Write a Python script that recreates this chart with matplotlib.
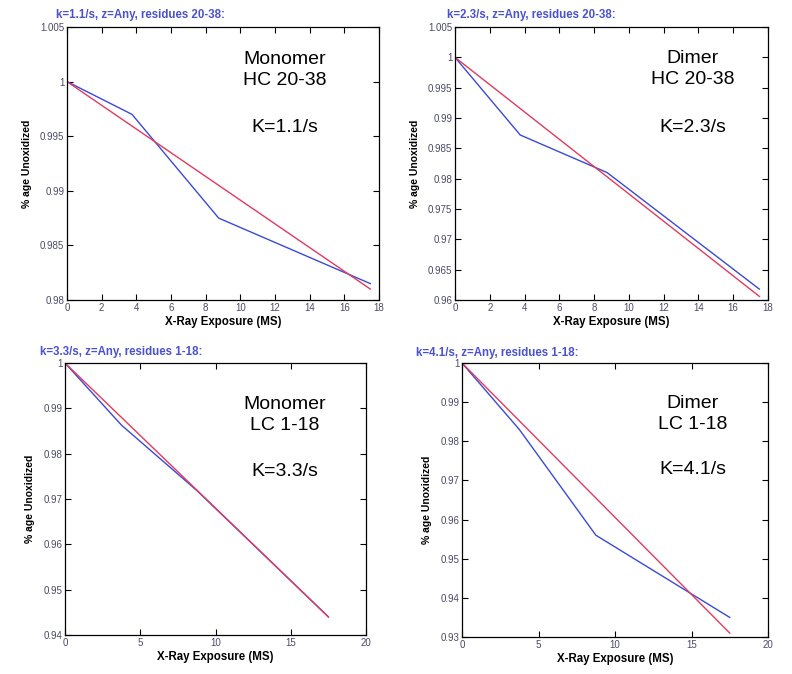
"""Four-panel oxidation decay plots (MATLAB-style) recreated with matplotlib."""

import numpy as np
import matplotlib
matplotlib.use("Agg")
import matplotlib.pyplot as plt
from matplotlib.ticker import FormatStrFormatter, FuncFormatter, MultipleLocator

plt.rcParams["font.family"] = ["Liberation Sans", "DejaVu Sans"]

# ---------------------------------------------------------------------------
# Data
# ---------------------------------------------------------------------------

exposure = [0.0, 3.75, 8.75, 17.5]          # X-Ray exposure (ms)
fit_x = [0.0, 17.5]

mono_hc_obs = [1.0, 0.9970, 0.9875, 0.9815]
mono_hc_fit = [1.0, 0.9810]
dimer_hc_obs = [1.0, 0.9872, 0.9810, 0.9618]
dimer_hc_fit = [1.0, 0.9606]
mono_lc_obs = [1.0, 0.9863, 0.9719, 0.9440]
mono_lc_fit = [1.0, 0.9440]
dimer_lc_obs = [1.0, 0.9830, 0.9560, 0.9350]
dimer_lc_fit = [1.0, 0.9310]

titles = [
    "k=1.1/s, z=Any, residues 20-38:",
    "k=2.3/s, z=Any, residues 20-38:",
    "k=3.3/s, z=Any, residues 1-18:",
    "k=4.1/s, z=Any, residues 1-18:",
]
labels = [
    "Monomer\nHC 20-38",
    "Dimer\nHC 20-38",
    "Monomer\nLC 1-18",
    "Dimer\nLC 1-18",
]
rates = ["K=1.1/s", "K=2.3/s", "K=3.3/s", "K=4.1/s"]

BLUE = "#3a4ad8"
RED = "#e23a5e"
TITLE_BLUE = "#4a52d0"
TICK_GREY = "#4a4a6a"

W, H = 792, 674


def px_rect(left, top, right, bottom):
    """Pixel box -> figure fraction [l, b, w, h]."""
    return [left / W, 1 - bottom / H, (right - left) / W, (bottom - top) / H]


panels = [
    dict(box=(67, 27, 379, 300), obs=mono_hc_obs, fit=mono_hc_fit,
         xlim=(0, 18), xstep=2, ylim=(0.98, 1.005), ystep=0.005,
         title_xy=(56, 15), text_x=285, text_y=(70, 128)),
    dict(box=(455, 27, 768, 300), obs=dimer_hc_obs, fit=dimer_hc_fit,
         xlim=(0, 18), xstep=2, ylim=(0.96, 1.005), ystep=0.005,
         title_xy=(447, 15), text_x=693, text_y=(69, 127)),
    dict(box=(65, 363, 366, 635), obs=mono_lc_obs, fit=mono_lc_fit,
         xlim=(0, 20), xstep=5, ylim=(0.94, 1.0), ystep=0.01,
         title_xy=(40, 352), text_x=285, text_y=(415, 472)),
    dict(box=(462, 363, 768, 637), obs=dimer_lc_obs, fit=dimer_lc_fit,
         xlim=(0, 20), xstep=5, ylim=(0.93, 1.0), ystep=0.01,
         title_xy=(416, 353), text_x=693, text_y=(414, 470)),
]

fig = plt.figure(figsize=(W / 100, H / 100), dpi=100)

for i, p in enumerate(panels):
    ax = fig.add_axes(px_rect(*p["box"]))
    ax.plot(exposure, p["obs"], color=BLUE, lw=1.0)
    ax.plot(fit_x, p["fit"], color=RED, lw=1.0)

    ax.set_xlim(*p["xlim"])
    ax.set_ylim(*p["ylim"])
    ax.xaxis.set_major_locator(MultipleLocator(p["xstep"]))
    ax.yaxis.set_major_locator(MultipleLocator(p["ystep"]))
    ax.xaxis.set_major_formatter(FormatStrFormatter("%g"))
    ax.yaxis.set_major_formatter(FuncFormatter(lambda v, _: f"{round(v, 4):g}"))
    ax.tick_params(direction="in", top=True, right=True, length=4,
                   width=0.8, labelsize=7, labelcolor=TICK_GREY, pad=2)
    for s in ax.spines.values():
        s.set_linewidth(0.9)

    ax.set_xlabel("X-Ray Exposure (MS)", fontsize=8.3, fontweight="bold",
                  labelpad=2)
    ax.set_ylabel("% age Unoxidized", fontsize=7.5, fontweight="bold",
                  labelpad=6)

    tx, ty = p["title_xy"]
    fig.text(tx / W, 1 - ty / H, titles[i], fontsize=8.3, fontweight="bold",
             color=TITLE_BLUE, ha="left", va="center")

    y1, y2 = p["text_y"]
    fig.text(p["text_x"] / W, 1 - y1 / H, labels[i], fontsize=14,
             ha="center", va="center", linespacing=1.25)
    fig.text(p["text_x"] / W, 1 - y2 / H, rates[i], fontsize=14,
             ha="center", va="center")

fig.savefig("out.png", dpi=100)
